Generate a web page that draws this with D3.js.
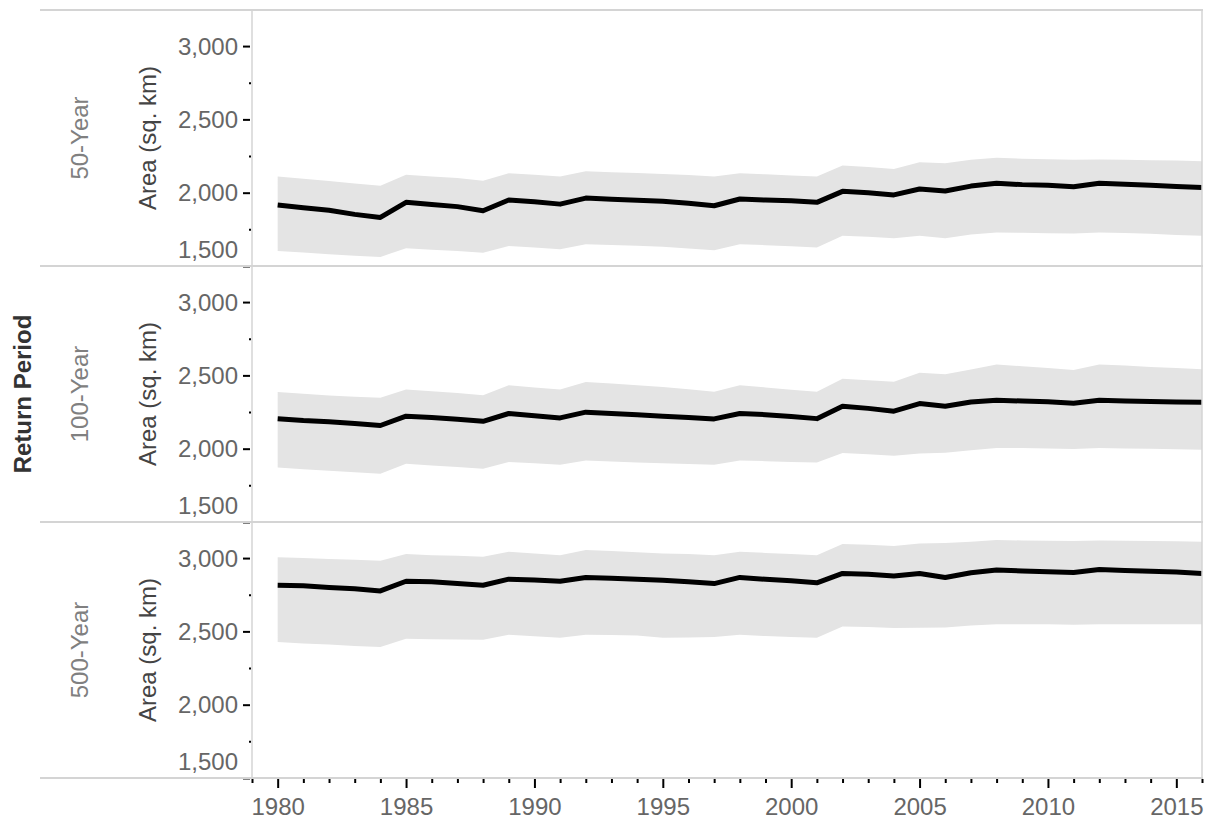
<!DOCTYPE html>
<html>
<head>
  <meta charset="utf-8">
  <title>Flood Area by Return Period</title>
  <script src="https://d3js.org/d3.v7.min.js"></script>
  <style>
    body { margin: 0; background: #fff; }
    text { font-family: Arial, "Liberation Sans", sans-serif; }
  </style>
</head>
<body>
  <script>
    // Data
    const years = [1980, 1981, 1982, 1983, 1984, 1985, 1986, 1987, 1988, 1989,
      1990, 1991, 1992, 1993, 1994, 1995, 1996, 1997, 1998, 1999,
      2000, 2001, 2002, 2003, 2004, 2005, 2006, 2007, 2008, 2009,
      2010, 2011, 2012, 2013, 2014, 2015, 2016];

    const periods = ['50-Year', '100-Year', '500-Year'];

    const mean50 = [1916, 1897, 1880, 1852, 1831, 1934, 1920, 1905, 1877, 1950,
      1938, 1922, 1963, 1955, 1948, 1942, 1928, 1911, 1957, 1950,
      1945, 1934, 2009, 2000, 1985, 2025, 2012, 2045, 2064, 2055,
      2050, 2040, 2064, 2058, 2050, 2043, 2036];
    const upper50 = [2110, 2095, 2080, 2062, 2048, 2123, 2110, 2100, 2082, 2132,
      2122, 2110, 2146, 2140, 2135, 2128, 2120, 2110, 2132, 2125,
      2118, 2110, 2185, 2175, 2162, 2208, 2201, 2225, 2238, 2232,
      2228, 2224, 2226, 2224, 2222, 2220, 2215];
    const lower50 = [1603, 1592, 1580, 1570, 1562, 1621, 1610, 1602, 1591, 1637,
      1627, 1614, 1649, 1643, 1638, 1632, 1620, 1607, 1649, 1642,
      1635, 1626, 1706, 1700, 1690, 1706, 1690, 1715, 1728, 1726,
      1723, 1721, 1728, 1725, 1720, 1712, 1706];

    const mean100 = [2205, 2192, 2183, 2172, 2158, 2222, 2212, 2200, 2187, 2240,
      2225, 2210, 2249, 2240, 2232, 2222, 2213, 2203, 2240, 2232,
      2220, 2205, 2290, 2275, 2256, 2308, 2290, 2318, 2331, 2325,
      2320, 2310, 2330, 2325, 2322, 2318, 2317];
    const upper100 = [2386, 2375, 2363, 2355, 2347, 2404, 2392, 2380, 2365, 2432,
      2418, 2404, 2454, 2445, 2432, 2420, 2405, 2388, 2432, 2418,
      2402, 2388, 2477, 2467, 2457, 2518, 2507, 2540, 2575, 2562,
      2550, 2536, 2575, 2568, 2558, 2550, 2541];
    const lower100 = [1872, 1860, 1850, 1840, 1829, 1897, 1885, 1875, 1863, 1909,
      1900, 1890, 1920, 1912, 1905, 1900, 1895, 1890, 1920, 1915,
      1910, 1906, 1970, 1962, 1952, 1968, 1972, 1990, 2005, 2005,
      2002, 1998, 2005, 2002, 2000, 1996, 1993];

    const mean500 = [2815, 2812, 2800, 2790, 2776, 2842, 2838, 2826, 2815, 2856,
      2850, 2842, 2868, 2862, 2856, 2848, 2838, 2826, 2868, 2855,
      2845, 2831, 2895, 2890, 2877, 2895, 2868, 2900, 2918, 2912,
      2906, 2902, 2922, 2915, 2910, 2905, 2895];
    const upper500 = [3005, 3000, 2993, 2988, 2982, 3027, 3020, 3015, 3009, 3043,
      3032, 3020, 3055, 3048, 3040, 3032, 3027, 3020, 3043, 3035,
      3028, 3020, 3096, 3090, 3082, 3100, 3102, 3112, 3123, 3120,
      3118, 3116, 3120, 3118, 3116, 3114, 3112];
    const lower500 = [2427, 2418, 2410, 2400, 2393, 2450, 2447, 2445, 2443, 2477,
      2467, 2457, 2477, 2475, 2472, 2457, 2459, 2461, 2477, 2468,
      2462, 2457, 2534, 2530, 2523, 2525, 2527, 2540, 2548, 2548,
      2548, 2545, 2548, 2548, 2548, 2548, 2548];

    const yMajor = [1500, 2000, 2500, 3000];
    const yMinor = [1750, 2250, 2750];
    const xMajor = [1980, 1985, 1990, 1995, 2000, 2005, 2010, 2015];

    const means = [mean50, mean100, mean500];
    const uppers = [upper50, upper100, upper500];
    const lowers = [lower50, lower100, lower500];

    const width = 1206, height = 823;
    const frameLeft = 40, plotLeft = 252, plotRight = 1202;
    const plotTop = 10, plotBottom = 778;
    const panelH = (plotBottom - plotTop) / 3;
    const fontSize = '24px';

    const svg = d3.select('body').append('svg')
      .attr('width', width)
      .attr('height', height);

    const x = d3.scaleLinear().domain([1979, 2016]).range([plotLeft, plotRight]);

    const gridColor = '#d4d4d4';

    periods.forEach((p, i) => {
      const top = plotTop + i * panelH;
      const bottom = top + panelH;
      const y = d3.scaleLinear().domain([1500, 3246]).range([bottom, top]);

      const g = svg.append('g');

      const rows = years.map((yr, j) => ({ yr, m: means[i][j], hi: uppers[i][j], lo: lowers[i][j] }));

      // band
      g.append('path')
        .datum(rows)
        .attr('fill', '#e4e4e4')
        .attr('d', d3.area().x(d => x(d.yr)).y0(d => y(d.lo)).y1(d => y(d.hi)));

      // mean line
      g.append('path')
        .datum(rows)
        .attr('fill', 'none')
        .attr('stroke', '#000')
        .attr('stroke-width', 5)
        .attr('stroke-linejoin', 'round')
        .attr('d', d3.line().x(d => x(d.yr)).y(d => y(d.m)));

      // major ticks with labels
      const ax = g.append('g')
        .attr('transform', `translate(${plotLeft - 2},0)`)
        .call(d3.axisLeft(y).tickValues(yMajor).tickSize(7).tickPadding(5)
          .tickFormat(d3.format(',')));
      ax.select('.domain').remove();
      ax.selectAll('.tick line').attr('stroke', '#000').attr('stroke-width', 2);
      ax.selectAll('.tick text')
        .attr('fill', '#666')
        .style('font-size', fontSize)
        .attr('dy', d => d === 1500 ? '-0.36em' : '0.34em');

      // minor ticks
      const axm = g.append('g')
        .attr('transform', `translate(${plotLeft - 1},0)`)
        .call(d3.axisLeft(y).tickValues(yMinor).tickSize(2).tickFormat(''));
      axm.select('.domain').remove();
      axm.selectAll('.tick line').attr('stroke', '#000').attr('stroke-width', 2);

      const mid = (top + bottom) / 2;
      g.append('text')
        .attr('transform', `translate(156,${mid}) rotate(-90)`)
        .attr('text-anchor', 'middle')
        .attr('fill', '#444')
        .style('font-size', fontSize)
        .text('Area (sq. km)');

      g.append('text')
        .attr('transform', `translate(88,${mid}) rotate(-90)`)
        .attr('text-anchor', 'middle')
        .attr('fill', '#808080')
        .style('font-size', fontSize)
        .text(p);
    });

    // frame lines
    [0, 1, 2, 3].forEach(k => {
      svg.append('line')
        .attr('x1', frameLeft).attr('x2', plotRight + 1)
        .attr('y1', plotTop + k * panelH).attr('y2', plotTop + k * panelH)
        .attr('stroke', gridColor).attr('stroke-width', 2);
    });
    svg.append('line')
      .attr('x1', plotLeft).attr('x2', plotLeft)
      .attr('y1', plotTop).attr('y2', plotBottom)
      .attr('stroke', gridColor).attr('stroke-width', 1.5);
    svg.append('line')
      .attr('x1', plotRight).attr('x2', plotRight)
      .attr('y1', plotTop).attr('y2', plotBottom)
      .attr('stroke', gridColor).attr('stroke-width', 1.5);

    // x axis
    const xa = svg.append('g')
      .attr('transform', `translate(0,${plotBottom + 1})`)
      .call(d3.axisBottom(x).tickValues(xMajor).tickSize(9).tickPadding(10)
        .tickFormat(d3.format('d')));
    xa.select('.domain').remove();
    xa.selectAll('.tick line').attr('stroke', '#000').attr('stroke-width', 2);
    xa.selectAll('.tick text').attr('fill', '#666').style('font-size', fontSize);

    const minorYears = [1979].concat(years.filter(yr => xMajor.indexOf(yr) < 0));
    const xm = svg.append('g')
      .attr('transform', `translate(0,${plotBottom + 1})`)
      .call(d3.axisBottom(x).tickValues(minorYears).tickSize(4).tickFormat(''));
    xm.select('.domain').remove();
    xm.selectAll('.tick line').attr('stroke', '#000').attr('stroke-width', 2);

    // row title
    svg.append('text')
      .attr('transform', `translate(31,${(plotTop + plotBottom) / 2}) rotate(-90)`)
      .attr('text-anchor', 'middle')
      .attr('fill', '#333')
      .style('font-size', fontSize)
      .style('font-weight', 'bold')
      .text('Return Period');
  </script>
</body>
</html>
